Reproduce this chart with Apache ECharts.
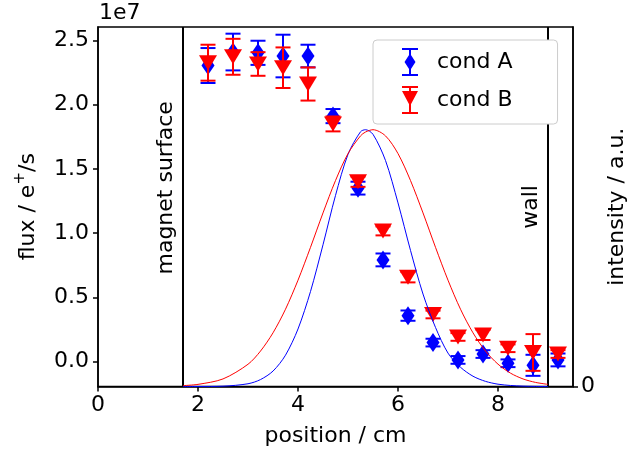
<!DOCTYPE html>
<html><head><meta charset="utf-8">
<script src="https://cdn.jsdelivr.net/npm/echarts@6/dist/echarts.min.js"></script>
<style>html,body{margin:0;padding:0;background:#fff}#c{width:644px;height:453px}</style>
</head><body><div id="c"></div>
<script>
// ---- data ----
const positions = [2.2, 2.7, 3.2, 3.7, 4.2, 4.7, 5.2, 5.7, 6.2, 6.7, 7.2, 7.7, 8.2, 8.7, 9.2]; // cm
const fluxA = [2.305e7, 2.41e7, 2.404e7, 2.379e7, 2.379e7, 1.911e7, 1.35e7, 0.791e7, 0.357e7, 0.147e7, 0.012e7, 0.058e7, -0.014e7, -0.03e7, 0.012e7];
const errA  = [0.136e7, 0.143e7, 0.094e7, 0.166e7, 0.088e7, 0.055e7, 0.05e7, 0.05e7, 0.04e7, 0.03e7, 0.03e7, 0.03e7, 0.03e7, 0.082e7, 0.05e7];
const fluxB = [2.327e7, 2.373e7, 2.317e7, 2.288e7, 2.161e7, 1.85e7, 1.40e7, 1.017e7, 0.656e7, 0.366e7, 0.191e7, 0.207e7, 0.103e7, 0.07e7, 0.058e7];
const errB  = [0.14e7, 0.14e7, 0.092e7, 0.158e7, 0.129e7, 0.058e7, 0.04e7, 0.035e7, 0.04e7, 0.03e7, 0.03e7, 0.04e7, 0.03e7, 0.143e7, 0.03e7];

const profileX = [1.7, 2.0, 2.5, 3.0, 3.25, 3.5, 3.75, 4.0, 4.25, 4.5, 4.75, 5.0, 5.25, 5.35, 5.5, 5.75, 6.0, 6.25, 6.5, 6.75, 7.0, 7.25, 7.5, 7.75, 8.0, 8.25, 8.5, 8.75, 9.0];
const profileA = [0, 0.0001, 0.0013, 0.0107, 0.027, 0.060, 0.122, 0.224, 0.370, 0.552, 0.744, 0.904, 0.992, 1.0, 0.982, 0.880, 0.715, 0.530, 0.360, 0.230, 0.130, 0.075, 0.040, 0.020, 0.009, 0.004, 0.0015, 0.0005, 0];
const profileB = [0.0035, 0.0083, 0.0295, 0.0866, 0.138, 0.209, 0.301, 0.414, 0.542, 0.676, 0.802, 0.907, 0.976, 0.991, 1.0, 0.976, 0.907, 0.802, 0.676, 0.542, 0.414, 0.301, 0.209, 0.138, 0.087, 0.052, 0.0295, 0.016, 0.0083];

const magnetX = 1.7, wallX = 9.0;
const annotations = [[1.7, 1.352e7, 'magnet surface'], [9.0, 1.204e7, 'wall']];
const xTicks = [0, 2, 4, 6, 8];
const yTicks = [0, 0.5e7, 1.0e7, 1.5e7, 2.0e7, 2.5e7];
const y2Ticks = [0];
const yMin = -0.195e7, yMax = 2.605e7;

// ---- chart ----
const FONT = 'DejaVu Sans';
const FS = 22;
const BLUE = '#0000ff', RED = '#ff0000';

function zip3(a, b, c) { return a.map((v, i) => [v, b[i], c ? c[i] : undefined]); }

function errRender(color) {
  return function (params, api) {
    const x = api.value(0), y = api.value(1), e = api.value(2);
    const t = api.coord([x, y + e]), b = api.coord([x, y - e]);
    const hw = 7.5;
    const st = { stroke: color, lineWidth: 2 };
    return { type: 'group', children: [
      { type: 'line', shape: { x1: t[0], y1: t[1], x2: b[0], y2: b[1] }, style: st },
      { type: 'line', shape: { x1: t[0] - hw, y1: t[1], x2: t[0] + hw, y2: t[1] }, style: st },
      { type: 'line', shape: { x1: b[0] - hw, y1: b[1], x2: b[0] + hw, y2: b[1] }, style: st }
    ]};
  };
}

const iconA = 'path://M0 0H16V2H0Z M7 0H9V28H7Z M0 26H16V28H0Z M8 5.5L13.5 14L8 22.5L2.5 14Z';
const iconB = 'path://M0 0H16V2H0Z M7 0H9V28H7Z M0 26H16V28H0Z M0 5H16L8 20Z';

const chart = echarts.init(document.getElementById('c'), null, { renderer: 'canvas' });
const axisTxt = { fontFamily: FONT, fontSize: FS, color: '#000' };

chart.setOption({
  animation: false,
  backgroundColor: '#fff',
  grid: { left: 98, right: 71, top: 27, bottom: 66.5, show: true, borderColor: '#000', borderWidth: 1.5, backgroundColor: 'transparent' },
  xAxis: {
    type: 'value', min: 0, max: 9.5,
    name: 'position / cm', nameLocation: 'middle', nameGap: 39, nameTextStyle: axisTxt,
    axisLine: { show: true, onZero: false, lineStyle: { color: '#000', width: 1.5 } },
    axisTick: { show: true, inside: false, length: 5, lineStyle: { color: '#000', width: 1.5 }, customValues: xTicks },
    axisLabel: { ...axisTxt, margin: 8, customValues: xTicks, formatter: v => String(v) },
    splitLine: { show: false }
  },
  yAxis: [{
    type: 'value', min: yMin, max: yMax, position: 'left',
    name: 'flux / e{sup|+}/s', nameLocation: 'middle', nameGap: 55, nameRotate: 90,
    nameTextStyle: { ...axisTxt, lineHeight: 30, rich: { sup: { fontFamily: FONT, fontSize: 15, color: '#000', verticalAlign: 'top', lineHeight: 30 } } },
    axisLine: { show: true, onZero: false, lineStyle: { color: '#000', width: 1.5 } },
    axisTick: { show: true, inside: false, length: 5, lineStyle: { color: '#000', width: 1.5 }, customValues: yTicks },
    axisLabel: { ...axisTxt, margin: 9, customValues: yTicks, formatter: v => (v / 1e7).toFixed(1) },
    splitLine: { show: false }
  }, {
    type: 'value', min: 0, max: 1.4, position: 'right',
    name: 'intensity / a.u.', nameLocation: 'middle', nameGap: 32, nameRotate: 90, nameTextStyle: axisTxt,
    axisLine: { show: true, onZero: false, lineStyle: { color: '#000', width: 1.5 } },
    axisTick: { show: true, inside: false, length: 5, lineStyle: { color: '#000', width: 1.5 }, customValues: y2Ticks },
    axisLabel: { ...axisTxt, margin: 8, customValues: y2Ticks, formatter: v => String(v) },
    splitLine: { show: false }
  }],
  legend: {
    left: 373, top: 40, orient: 'vertical',
    padding: [8, 45, 10, 29], itemWidth: 44, itemHeight: 28, itemGap: 10,
    backgroundColor: '#fff', borderColor: '#cccccc', borderWidth: 1, borderRadius: 4,
    textStyle: { fontFamily: FONT, fontSize: FS, color: '#000' },
    itemStyle: { opacity: 1 },
    data: [{ name: 'cond A', icon: iconA }, { name: 'cond B', icon: iconB }]
  },
  graphic: [{ type: 'text', left: 99, top: 2, style: { text: '1e7', fontFamily: FONT, fontSize: FS, fill: '#000' } }],
  series: [
    { name: 'magnetLine', type: 'line', data: [[magnetX, yMin], [magnetX, yMax]], symbol: 'none', lineStyle: { color: '#000', width: 2 }, z: 2, silent: true },
    { name: 'wallLine', type: 'line', data: [[wallX, yMin], [wallX, yMax]], symbol: 'none', lineStyle: { color: '#000', width: 2 }, z: 2, silent: true },
    { name: 'labels', type: 'custom', data: annotations, encode: { x: 0, y: 1 }, z: 3, silent: true,
      renderItem: (params, api) => {
        const p = api.coord([api.value(0), api.value(1)]);
        return { type: 'text', x: p[0] - 6, y: p[1], rotation: Math.PI / 2,
          style: { text: annotations[params.dataIndex][2], fontFamily: FONT, fontSize: FS, fill: '#000', align: 'center', verticalAlign: 'bottom' } };
      } },
    { name: 'errA', type: 'custom', data: zip3(positions, fluxA, errA), encode: { x: 0, y: 1 }, renderItem: errRender(BLUE), z: 4, silent: true },
    { name: 'cond A', type: 'scatter', data: zip3(positions, fluxA), symbol: 'diamond', symbolSize: [13, 19], itemStyle: { color: BLUE, opacity: 1 }, z: 5 },
    { name: 'errB', type: 'custom', data: zip3(positions, fluxB, errB), encode: { x: 0, y: 1 }, renderItem: errRender(RED), z: 6, silent: true },
    { name: 'cond B', type: 'scatter', data: zip3(positions, fluxB), symbol: 'triangle', symbolRotate: 180, symbolSize: [18, 15], itemStyle: { color: RED, opacity: 1 }, z: 7 },
    { name: 'profileA', type: 'line', yAxisIndex: 1, data: profileX.map((x, i) => [x, profileA[i]]), symbol: 'none', smooth: 0.3, lineStyle: { color: BLUE, width: 1 }, z: 8, silent: true },
    { name: 'profileB', type: 'line', yAxisIndex: 1, data: profileX.map((x, i) => [x, profileB[i]]), symbol: 'none', smooth: 0.3, lineStyle: { color: RED, width: 1 }, z: 8, silent: true }
  ]
});
</script>
</body></html>
